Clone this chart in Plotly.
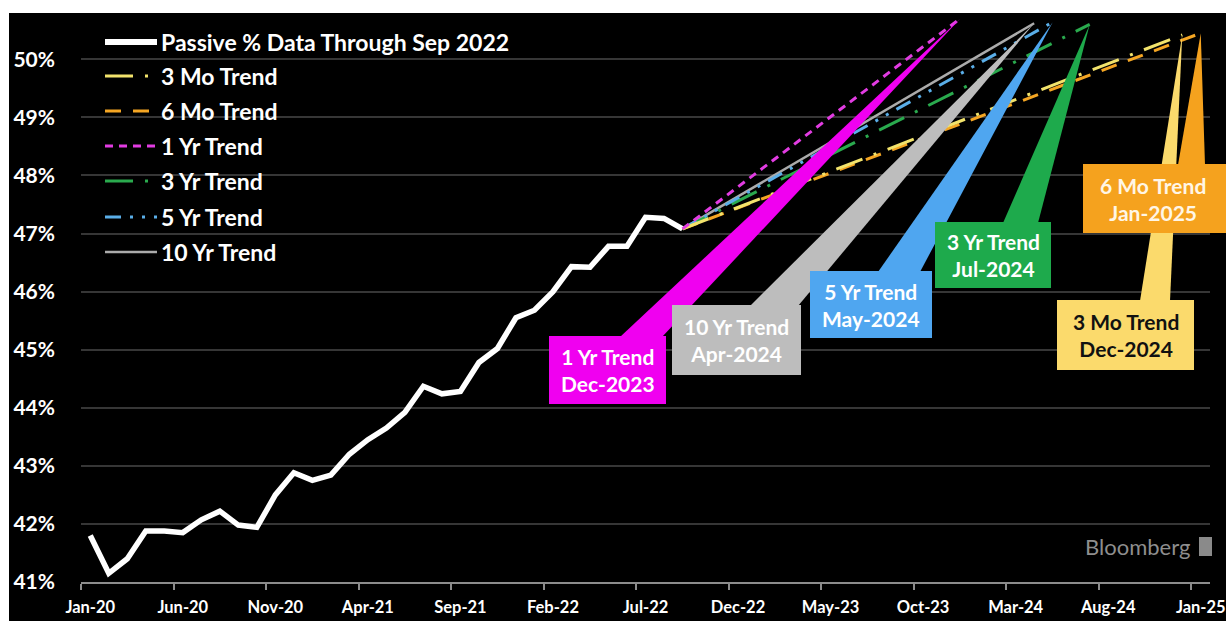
import plotly.graph_objects as go

# ---------------------------------------------------------------------------
# Data
# ---------------------------------------------------------------------------
# Passive share (%) by month, Jan-2020 through Sep-2022
passive_name = "Passive % Data Through Sep 2022"
passive_first_month = "Jan-2020"
passive_pct = [41.80, 41.15, 41.40, 41.88, 41.88, 41.85, 42.07, 42.22, 41.98, 41.94,
               42.50, 42.88, 42.75, 42.84, 43.20, 43.45, 43.65, 43.92, 44.37, 44.24,
               44.28, 44.78, 45.02, 45.55, 45.68, 46.00, 46.43, 46.42, 46.78, 46.78,
               47.28, 47.26, 47.08]

# Trend projections from the last data point to the month each one reaches ~50.5%
trend_names = ["3 Mo Trend", "6 Mo Trend", "1 Yr Trend", "3 Yr Trend", "5 Yr Trend", "10 Yr Trend"]
trend_end_month = ["Dec-2024", "Jan-2025", "Dec-2023", "Jul-2024", "May-2024", "Apr-2024"]
trend_end_pct = [50.42, 50.45, 50.70, 50.60, 50.64, 50.62]

x_tick_labels = ["Jan-20", "Jun-20", "Nov-20", "Apr-21", "Sep-21", "Feb-22", "Jul-22",
                 "Dec-22", "May-23", "Oct-23", "Mar-24", "Aug-24", "Jan-25"]
y_tick_values = [41, 42, 43, 44, 45, 46, 47, 48, 49, 50]

# ---------------------------------------------------------------------------
# Styles
# ---------------------------------------------------------------------------
FONT = "Lato, 'DejaVu Sans', sans-serif"
trend_colors = ["#F2E36C", "#F5A623", "#E23CE2", "#2AAA4E", "#5AAEE8", "#ABABAB"]
trend_dash = ["28px,12px,3px,12px", "16px,12px", "8px,6px", "28px,12px,3px,12px",
              "16px,9px,3px,9px,3px,9px", "solid"]
trend_width = [3, 3, 3, 3, 3, 2.5]
callout_fill = {"3 Mo Trend": "#FBDA6C", "6 Mo Trend": "#F5A21E", "1 Yr Trend": "#F000F0",
                "3 Yr Trend": "#1EAA4C", "5 Yr Trend": "#4FA6F0", "10 Yr Trend": "#BDBDBD"}
callout_text = {"3 Mo Trend": "#111111", "6 Mo Trend": "#FFF6E6", "1 Yr Trend": "#FFFFFF",
                "3 Yr Trend": "#FFFFFF", "5 Yr Trend": "#FFFFFF", "10 Yr Trend": "#FFFFFF"}

# Figure geometry (pixels)
W, H = 1226, 621
M_L, M_R, M_T, M_B = 81, 16, 14, 39
X_RANGE = [-0.5, 60.5]
Y_RANGE = [41, 50.78]
PW, PH = W - M_L - M_R, H - M_T - M_B

# Callout boxes (x0, y0, x1, y1) and pointer bases (xa, xb, y) in figure pixels
callout_box = {"1 Yr Trend": (549, 336, 666, 404), "10 Yr Trend": (672, 305, 801, 375),
               "5 Yr Trend": (810, 271, 932, 338), "3 Yr Trend": (935, 222, 1051, 288),
               "6 Mo Trend": (1083, 164, 1226, 233), "3 Mo Trend": (1057, 300, 1194, 370)}
pointer_base = {"1 Yr Trend": (620, 662, 337), "10 Yr Trend": (750, 798, 306),
                "5 Yr Trend": (878, 920, 272), "3 Yr Trend": (1003, 1038, 223),
                "6 Mo Trend": (1178, 1205, 165), "3 Mo Trend": (1140, 1170, 301)}

MONTHS = ["Jan", "Feb", "Mar", "Apr", "May", "Jun", "Jul", "Aug", "Sep", "Oct", "Nov", "Dec"]


def month_index(label):
    """Months elapsed since Jan-2020 for a 'Mon-YYYY' label."""
    mon, year = label.split("-")
    return (int(year) - 2020) * 12 + MONTHS.index(mon)


def px_to_paper(px, py):
    return (px - M_L) / PW, (H - M_B - py) / PH


def data_to_paper(x, y):
    return ((x - X_RANGE[0]) / (X_RANGE[1] - X_RANGE[0]),
            (y - Y_RANGE[0]) / (Y_RANGE[1] - Y_RANGE[0]))


fig = go.Figure()

# Passive series
x0 = month_index(passive_first_month)
passive_x = [x0 + i for i in range(len(passive_pct))]
fig.add_trace(go.Scatter(x=passive_x, y=passive_pct, mode="lines", name=passive_name,
                         line=dict(color="#FFFFFF", width=5.5), showlegend=False,
                         hovertemplate="%{y:.2f}%<extra></extra>"))

# Trend projections
trend_x_end = [month_index(m) for m in trend_end_month]
draw_order = [5, 3, 4, 1, 0, 2]
for i in draw_order:
    fig.add_trace(go.Scatter(
        x=[passive_x[-1], trend_x_end[i]], y=[passive_pct[-1], trend_end_pct[i]],
        mode="lines", name=trend_names[i], showlegend=False,
        line=dict(color=trend_colors[i], width=trend_width[i], dash=trend_dash[i]),
        hovertemplate="%{y:.2f}%<extra>" + trend_names[i] + "</extra>"))

shapes = []
annotations = []

# Thin white border strips along the top and left edges of the black canvas
sx0, sy0 = px_to_paper(-2, -2)
sx1, sy1 = px_to_paper(W + 2, 13)
shapes.append(dict(type="rect", xref="paper", yref="paper", x0=sx0, y0=sy1, x1=sx1, y1=sy0,
                   fillcolor="#FFFFFF", line=dict(width=0), layer="above"))
sx1, sy1 = px_to_paper(9, H + 2)
shapes.append(dict(type="rect", xref="paper", yref="paper", x0=sx0, y0=sy1, x1=sx1, y1=sy0,
                   fillcolor="#FFFFFF", line=dict(width=0), layer="above"))

# Callout pointers (3 Mo first so the 6 Mo box sits over it)
pointer_order = ["3 Mo Trend", "1 Yr Trend", "10 Yr Trend", "5 Yr Trend", "3 Yr Trend", "6 Mo Trend"]
for name in pointer_order:
    i = trend_names.index(name)
    tx, ty = data_to_paper(trend_x_end[i], trend_end_pct[i])
    xa, xb, yb = pointer_base[name]
    ax, ay = px_to_paper(xa, yb)
    bx, by = px_to_paper(xb, yb)
    shapes.append(dict(type="path", xref="paper", yref="paper",
                       path=f"M {ax},{ay} L {tx},{ty} L {bx},{by} Z",
                       fillcolor=callout_fill[name], line=dict(width=0), layer="above"))

# Callout boxes with labels
for name in pointer_order:
    i = trend_names.index(name)
    x0p, y0p, x1p, y1p = callout_box[name]
    ax, ay = px_to_paper(x0p, y1p)
    bx, by = px_to_paper(x1p + (6 if x1p >= W else 0), y0p)
    shapes.append(dict(type="rect", xref="paper", yref="paper", x0=ax, y0=ay, x1=bx, y1=by,
                       fillcolor=callout_fill[name], line=dict(width=0), layer="above"))
    cx, cy = px_to_paper((x0p + min(x1p, W - 4)) / 2, (y0p + y1p) / 2)
    annotations.append(dict(xref="paper", yref="paper", x=cx, y=cy, showarrow=False,
                            text=f"{name}<br>{trend_end_month[i]}", align="center",
                            xanchor="center", yanchor="middle",
                            font=dict(family=FONT, size=21, color=callout_text[name], weight="bold")))

# Legend drawn as line samples and labels
legend_names = [passive_name] + trend_names
legend_colors = ["#FFFFFF"] + trend_colors
legend_dash = ["solid"] + trend_dash
legend_width = [6] + trend_width
legend_y = [42, 76, 111, 146, 181, 217, 252]
for k, name in enumerate(legend_names):
    lx0, ly = px_to_paper(105, legend_y[k])
    lx1, _ = px_to_paper(157, legend_y[k])
    shapes.append(dict(type="line", xref="paper", yref="paper", x0=lx0, y0=ly, x1=lx1, y1=ly,
                       line=dict(color=legend_colors[k], width=legend_width[k], dash=legend_dash[k]),
                       layer="above"))
    tx, _ = px_to_paper(159, 0)
    annotations.append(dict(xref="paper", yref="paper", x=tx, y=ly, showarrow=False,
                            text=name, xanchor="left", yanchor="middle",
                            font=dict(family=FONT, size=23, color="#FFFFFF", weight="bold")))

# Watermark
wx, wy = px_to_paper(1192, 546)
annotations.append(dict(xref="paper", yref="paper", x=wx, y=wy, showarrow=False,
                        text="Bloomberg", xanchor="right", yanchor="middle",
                        font=dict(family=FONT, size=22, color="#8E8E8E")))
ix0, iy0 = px_to_paper(1199, 556)
ix1, iy1 = px_to_paper(1212, 537)
shapes.append(dict(type="rect", xref="paper", yref="paper", x0=ix0, y0=iy0, x1=ix1, y1=iy1,
                   fillcolor="#8A8A8A", line=dict(width=0), layer="above"))

fig.update_layout(
    width=W, height=H,
    margin=dict(l=M_L, r=M_R, t=M_T, b=M_B, autoexpand=False),
    paper_bgcolor="#000000", plot_bgcolor="#000000",
    font=dict(family=FONT, color="#FFFFFF"),
    showlegend=False,
    shapes=shapes, annotations=annotations,
    xaxis=dict(range=X_RANGE, tickmode="array", automargin=False,
               tickvals=[5 * k for k in range(len(x_tick_labels))], ticktext=x_tick_labels,
               ticks="", showgrid=False, zeroline=False,
               showline=True, linecolor="#8C8C8C", linewidth=2,
               tickfont=dict(family=FONT, size=16.5, color="#FFFFFF", weight="bold"),
               ticklabelstandoff=9, ticklabeloverflow="allow",
               minor=dict(tickmode="array", tickvals=[5 * k - 0.5 for k in range(len(x_tick_labels))],
                          ticks="outside", ticklen=6, tickwidth=1.5, tickcolor="#8C8C8C",
                          showgrid=False)),
    yaxis=dict(range=Y_RANGE, tickmode="array", tickvals=y_tick_values, automargin=False,
               ticktext=[f"{v}%" for v in y_tick_values],
               ticks="", showgrid=True, gridcolor="#363636", gridwidth=1.5,
               zeroline=False, showline=False,
               tickfont=dict(family=FONT, size=21, color="#FFFFFF", weight="bold"),
               ticklabelstandoff=25),
)

fig.write_html("out.html")
